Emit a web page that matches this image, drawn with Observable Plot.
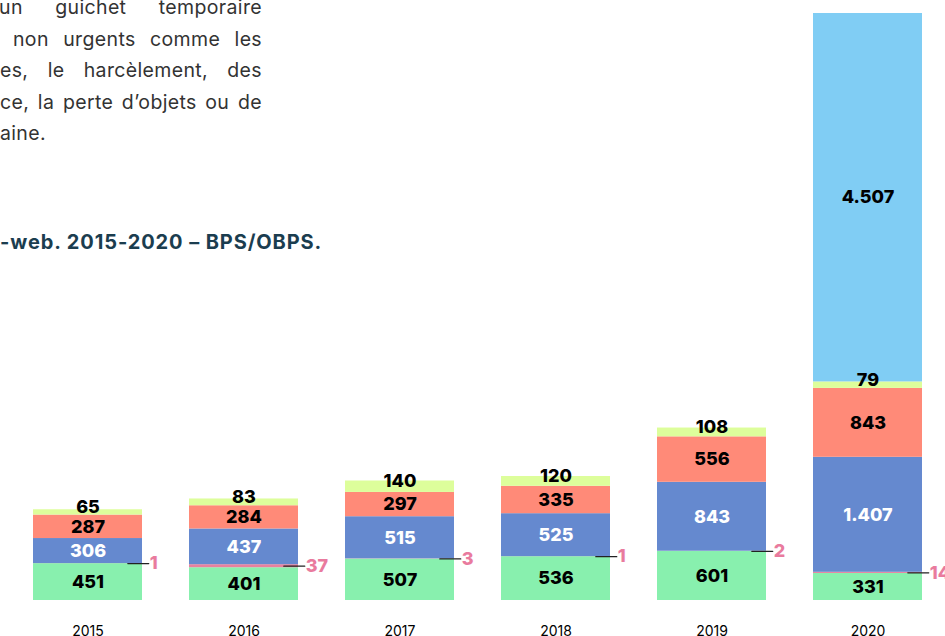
<!DOCTYPE html>
<html><head><meta charset="utf-8">
<script src="https://cdn.jsdelivr.net/npm/d3@7"></script>
<script src="https://cdn.jsdelivr.net/npm/@observablehq/plot@0.6"></script>
<style>
html,body{margin:0;padding:0;background:#fff;}
#wrap{position:relative;width:945px;height:636px;overflow:hidden;font-family:Inter, "Open Sans", sans-serif;}
#chart{position:absolute;left:0;top:0;}
.bodytext{position:absolute;left:0;top:-8px;width:262px;font-size:19.5px;letter-spacing:0.35px;line-height:31.5px;color:#333;}
.ln{display:flex;justify-content:space-between;height:31.5px;white-space:nowrap;}
.sub{position:absolute;left:0;top:232px;font-weight:700;font-size:20px;letter-spacing:0.9px;line-height:20px;color:#1b3d4f;white-space:nowrap;}
</style></head>
<body>
<div id="wrap">
  <div id="chart"></div>
  <div class="bodytext">
    <div class="ln" style="margin-left:-1px"><span>un</span><span>guichet</span><span>temporaire</span></div>
    <div class="ln" style="margin-left:13px"><span>non</span><span>urgents</span><span>comme</span><span>les</span></div>
    <div class="ln"><span>es,</span><span>le</span><span>harcèlement,</span><span>des</span></div>
    <div class="ln"><span>ce,</span><span>la</span><span>perte</span><span>d’objets</span><span>ou</span><span>de</span></div>
    <div class="ln"><span>aine.</span></div>
  </div>
  <div class="sub">-web. 2015-2020 – BPS/OBPS.</div>
</div>
<script>
const years = ["2015", "2016", "2017", "2018", "2019", "2020"];
const seriesNames = ["A", "B", "C", "D", "E", "F"];
const serieA = [451, 401, 507, 536, 601, 331];   // vert
const serieB = [1, 37, 3, 1, 2, 14];              // rose
const serieC = [306, 437, 515, 525, 843, 1407];   // bleu
const serieD = [287, 284, 297, 335, 556, 843];    // saumon
const serieE = [65, 83, 140, 120, 108, 79];       // jaune
const serieF = [0, 0, 0, 0, 0, 4507];             // bleu clair
const seriesColors = ["#88f0ae", "#e8809f", "#6589cf", "#ff8a78", "#ddfe9b", "#80cdf4"];

const allSeries = [serieA, serieB, serieC, serieD, serieE, serieF];
const rows = [];
seriesNames.forEach((s, i) => years.forEach((y, j) => rows.push({year: y, series: s, value: allSeries[i][j]})));

const totals = years.map((y, j) => d3.sum(allSeries, s => s[j]));
const fmt = d3.formatLocale({decimal: ",", thousands: ".", grouping: [3], currency: ["", ""]}).format(",d");

const xRange = [32, 924];
const padIn = 0.3;
const step = (xRange[1] - xRange[0]) / (years.length - padIn);
const bw = step * (1 - padIn);

const st = o => Plot.stackY({x: "year", y: "value", z: "series", ...o});
const textBase = {text: d => fmt(d.value), fontSize: 18, fontWeight: 800};

const chart = Plot.plot({
  width: 945,
  height: 636,
  marginBottom: 36,
  style: {fontFamily: "Inter, 'Open Sans', sans-serif", fontSize: "14px", background: "transparent", overflow: "visible"},
  x: {domain: years, range: xRange, paddingInner: padIn, paddingOuter: 0, label: null, tickSize: 0, tickPadding: 26},
  y: {domain: [0, d3.max(totals)], range: [600, 13], axis: null},
  color: {domain: seriesNames, range: seriesColors},
  marks: [
    Plot.barY(rows, st({fill: "series"})),
    Plot.text(rows, Plot.filter(d => ["A", "D", "F"].includes(d.series) && d.value > 0, st({...textBase, fill: "#000"}))),
    Plot.text(rows, Plot.filter(d => d.series === "C", st({...textBase, fill: "#fff"}))),
    Plot.text(rows, Plot.filter(d => d.series === "E", st({...textBase, fill: "#000", dy: -5}))),
    Plot.vector(rows, Plot.filter(d => d.series === "B", st({
      length: 21, rotate: 90, anchor: "start", stroke: "#222", strokeWidth: 1.2, dx: bw / 2 - 15,
      shape: {draw(ctx, l) { ctx.moveTo(0, 0); ctx.lineTo(0, -l); }}
    }))),
    Plot.text(rows, Plot.filter(d => d.series === "B", st({...textBase, fill: "#e97b9e", textAnchor: "start", dx: bw / 2 + 7})))
  ]
});
document.getElementById("chart").appendChild(chart);
</script>
</body></html>
